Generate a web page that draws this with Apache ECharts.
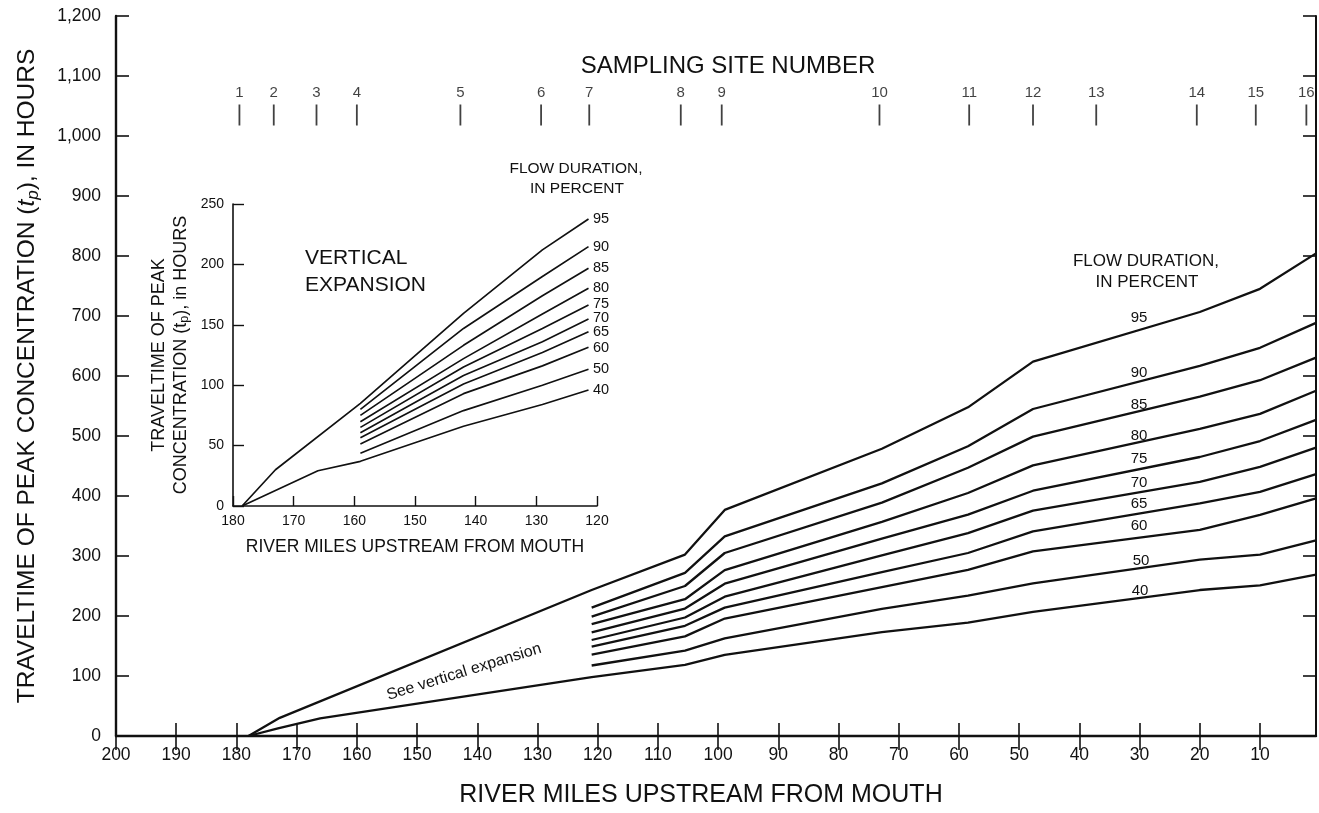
<!DOCTYPE html>
<html><head><meta charset="utf-8">
<script src="https://cdn.jsdelivr.net/npm/echarts@6/dist/echarts.min.js"></script>
<style>html,body{margin:0;padding:0;background:#fff}#c{width:1319px;height:813px}</style>
</head><body><div id="c"></div>
<script>
// ---------------- data ----------------
const mainTickMiles = [200,190,180,170,160,150,140,130,120,110,100,90,80,70,60,50,40,30,20,10];
const siteNumbers = [1,2,3,4,5,6,7,8,9,10,11,12,13,14,15,16];
const siteMiles = [179.5,173.8,166.7,160,142.8,129.4,121.4,106.2,99.4,73.2,58.3,47.7,37.2,20.5,10.7,2.3];
const flowLabels = ['95','90','85','80','75','70','65','60','50','40'];

// main chart (river miles upstream, traveltime hours)
const milesUpper = [178,172.8,121,105.5,98.9,72.8,58.5,47.7,20,10,0.7];
const t95 = [0,30.3,243.3,302.4,376.8,478.8,547.8,624,706.7,745.3,804.4];
const milesLower = [178,173.1,166.1,121,105.5,98.9,72.8,58.5,47.7,20,10,0.7];
const t40 = [0,12.7,29.3,98.1,118.6,135.2,173,189,207,243.3,251,269];
const milesMid = [121,105.5,98.9,72.8,58.5,47.7,20,10,0.7];
const t90 = [214,272,332.7,421,483,545,617,647,688.5];
const t85 = [199,250,305,389,447,499,565.5,593,630.6];
const t80 = [186.5,228,276.4,357,405,451,512,536.8,575.4];
const t75 = [172.6,212.4,253.8,329,369,408.8,465,491.6,526.9];
const t70 = [160,197.5,232.2,301,338,375.7,423.7,448.5,480.5];
const t65 = [149,183.7,214,273,305,341,387.8,407,436.4];
const t60 = [135.7,166,195.8,248,277,307.8,343.7,368.5,396];
const t50 = [117.5,142.3,162.7,212,234,254.4,294,302.4,326];

// inset (vertical expansion)
const insetMilesUpper = [178.5,173,159,142,129,121.4];
const i95 = [0,30,85,159.5,212,237.6];
const insetMilesLower = [178.5,166,159,142,129,121.4];
const i40 = [0,29.2,37,66,84,96];
const insetMilesMid = [159,142,129,121.4];
const i90 = [80,147,190,214.7];
const i85 = [75,133,174,196.8];
const i80 = [69.8,122,159,180.2];
const i75 = [65.1,115,147,166.4];
const i70 = [60.7,108,136,154.8];
const i65 = [56.5,101,127,144.3];
const i60 = [51.3,93,116,131.4];
const i50 = [43.6,79,100,113.2];

// ---------------- chart ----------------
const FONT = '"Liberation Sans", Arial, Helvetica, sans-serif';
const INK = '#111';
const SITE_MARK_Y = 1035;

const zip = (xs, ys) => xs.map((x, i) => [x, ys[i]]);
const mainCurves = [
  [milesUpper, t95], [milesMid, t90], [milesMid, t85], [milesMid, t80], [milesMid, t75],
  [milesMid, t70], [milesMid, t65], [milesMid, t60], [milesMid, t50], [milesLower, t40]
];
const insetCurves = [
  [insetMilesUpper, i95], [insetMilesMid, i90], [insetMilesMid, i85], [insetMilesMid, i80], [insetMilesMid, i75],
  [insetMilesMid, i70], [insetMilesMid, i65], [insetMilesMid, i60], [insetMilesMid, i50], [insetMilesLower, i40]
];

const series = [];
mainCurves.forEach((c, k) => series.push({
  type: 'line', name: 'main ' + flowLabels[k], xAxisIndex: 0, yAxisIndex: 0,
  data: zip(c[0], c[1]), showSymbol: false, silent: true,
  lineStyle: { color: INK, width: 2.3 }, z: 3
}));
insetCurves.forEach((c, k) => series.push({
  type: 'line', name: 'inset ' + flowLabels[k], xAxisIndex: 2, yAxisIndex: 2,
  data: zip(c[0], c[1]), showSymbol: false, silent: true,
  lineStyle: { color: INK, width: 1.7 }, z: 3
}));
series.push({
  type: 'scatter', name: 'sites', xAxisIndex: 0, yAxisIndex: 0, silent: true,
  data: siteMiles.map((m, i) => [m, SITE_MARK_Y, siteNumbers[i]]),
  symbol: 'rect', symbolSize: [1.8, 21],
  itemStyle: { color: INK },
  label: { show: true, position: 'top', distance: 4, formatter: p => String(p.data[2]),
           fontSize: 15, fontFamily: FONT, color: INK }
});

const txt = (text, x, y, size, align, extra) => Object.assign({
  type: 'text', x: x, y: y, silent: true,
  style: { text: text, fontSize: size, fontFamily: FONT, fill: INK, align: align || 'center', verticalAlign: 'middle' }
}, extra || {});

const mainLabelPos = [[1139,318],[1139,373],[1139,405],[1139,436],[1139,459],[1139,483],[1139,504],[1139,526],[1141,561],[1140,591]];
const insetLabelPos = [[593,219],[593,246.7],[593,268.3],[593,287.7],[593,304],[593,318],[593,332],[593,348],[593,369],[593,390]];

const graphics = [
  txt('SAMPLING SITE NUMBER', 728, 66, 24),
  txt('FLOW DURATION,', 1146, 261, 17),
  txt('IN PERCENT', 1147, 282, 17),
  txt('FLOW DURATION,', 576, 169, 15.5),
  txt('IN PERCENT', 577, 189, 15.5),
  txt('VERTICAL', 305, 258, 21, 'left'),
  txt('EXPANSION', 305, 285, 21, 'left'),
  txt('See vertical expansion', 464, 672, 16, 'center', { rotation: 0.30 })
];
mainLabelPos.forEach((p, k) => graphics.push(txt(flowLabels[k], p[0], p[1], 15)));
insetLabelPos.forEach((p, k) => graphics.push(txt(flowLabels[k], p[0], p[1], 14.5, 'left')));

const axisLineMain = { show: true, lineStyle: { color: INK, width: 2.4 } };
const axisLineInset = { show: true, lineStyle: { color: INK, width: 1.6 } };

const option = {
  backgroundColor: '#fff',
  animation: false,
  grid: [
    { left: 116, right: 3, top: 16, bottom: 72 },
    { left: 233, right: 722, top: 204, bottom: 307 }
  ],
  xAxis: [
    { type: 'value', gridIndex: 0, position: 'bottom', inverse: true, min: 0.7, max: 200,
      axisLine: axisLineMain,
      axisTick: { show: true, inside: true, length: 13, customValues: mainTickMiles, lineStyle: { color: INK, width: 1.6 } },
      axisLabel: { customValues: mainTickMiles, fontSize: 17.5, fontFamily: FONT, color: INK, margin: 10 },
      splitLine: { show: false },
      name: 'RIVER MILES UPSTREAM FROM MOUTH', nameLocation: 'middle', nameGap: 47,
      nameTextStyle: { fontSize: 25, fontFamily: FONT, color: INK, padding: [0, 30, 0, 0] } },
    { type: 'value', gridIndex: 0, position: 'top', inverse: true, min: 0.7, max: 200,
      axisLine: { show: true, lineStyle: { color: INK, width: 2 } },
      axisTick: { show: true, inside: true, length: 14, customValues: mainTickMiles, lineStyle: { color: INK, width: 1.6 } },
      axisLabel: { show: false }, splitLine: { show: false } },
    { type: 'value', gridIndex: 1, position: 'bottom', inverse: true, min: 120, max: 180, interval: 10,
      axisLine: axisLineInset,
      axisTick: { show: true, inside: true, length: 10, lineStyle: { color: INK, width: 1.4 } },
      axisLabel: { fontSize: 14, fontFamily: FONT, color: INK, margin: 8 },
      splitLine: { show: false },
      name: 'RIVER MILES UPSTREAM FROM MOUTH', nameLocation: 'middle', nameGap: 32,
      nameTextStyle: { fontSize: 17.5, fontFamily: FONT, color: INK } }
  ],
  yAxis: [
    { type: 'value', gridIndex: 0, position: 'left', min: 0, max: 1200, interval: 100,
      axisLine: axisLineMain,
      axisTick: { show: true, inside: true, length: 13, lineStyle: { color: INK, width: 1.6 } },
      axisLabel: { fontSize: 17.5, fontFamily: FONT, color: INK, margin: 15,
                   formatter: v => v.toLocaleString('en-US') },
      splitLine: { show: false },
      name: 'TRAVELTIME OF PEAK CONCENTRATION ({it|t}{sub|p}), IN HOURS',
      nameLocation: 'middle', nameRotate: 90, nameGap: 74,
      nameTextStyle: { fontSize: 24.5, fontFamily: FONT, color: INK,
        rich: { it: { fontSize: 24.5, fontStyle: 'italic', fontFamily: FONT, color: INK },
                sub: { fontSize: 17, fontStyle: 'italic', fontFamily: FONT, color: INK, padding: [12, 0, 0, 0] } } } },
    { type: 'value', gridIndex: 0, position: 'right', min: 0, max: 1200, interval: 100,
      axisLine: { show: true, lineStyle: { color: INK, width: 2 } },
      axisTick: { show: true, inside: true, length: 13, lineStyle: { color: INK, width: 1.6 } },
      axisLabel: { show: false }, splitLine: { show: false } },
    { type: 'value', gridIndex: 1, position: 'left', min: 0, max: 250, interval: 50,
      axisLine: axisLineInset,
      axisTick: { show: true, inside: true, length: 11, lineStyle: { color: INK, width: 1.4 } },
      axisLabel: { fontSize: 14, fontFamily: FONT, color: INK, margin: 9 },
      splitLine: { show: false },
      name: 'TRAVELTIME OF PEAK\nCONCENTRATION (t{sub|p}), in HOURS',
      nameLocation: 'middle', nameRotate: 90, nameGap: 41,
      nameTextStyle: { fontSize: 18, lineHeight: 22, fontFamily: FONT, color: INK, align: 'center',
        rich: { sub: { fontSize: 12.5, fontFamily: FONT, color: INK, padding: [8, 0, 0, 0] } } } }
  ],
  graphic: graphics,
  series: series
};

const chart = echarts.init(document.getElementById('c'), null, { renderer: 'canvas' });
chart.setOption(option);
</script></body></html>
